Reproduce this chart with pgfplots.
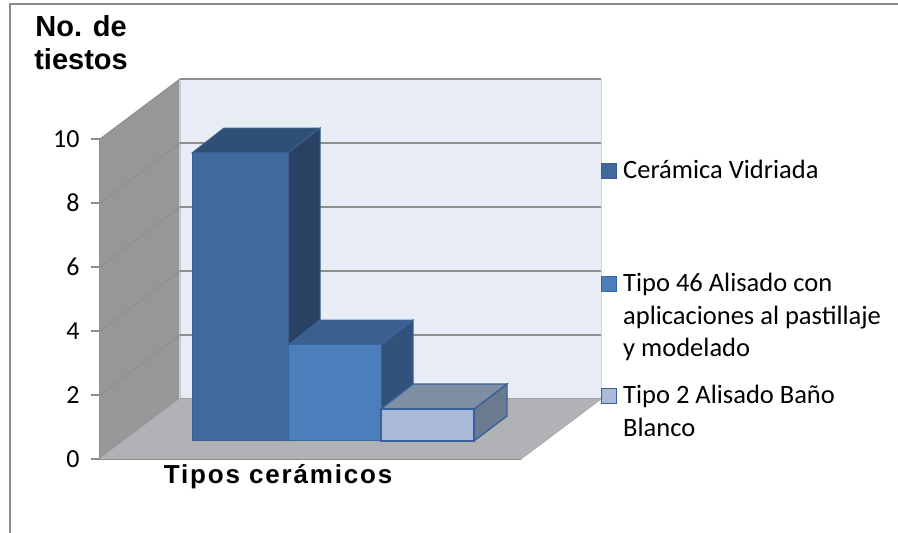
\documentclass[border=0pt]{standalone}
\usepackage{fontspec}
\usepackage{pgfplots}
\pgfplotsset{compat=1.18}
\setmainfont{Carlito}
\newfontfamily\arialb{Liberation Sans}
\newfontfamily\arialw[LetterSpace=7]{Liberation Sans}
\definecolor{frameg}{HTML}{8C8C8C}
\definecolor{wallc}{HTML}{969799}
\definecolor{floorc}{HTML}{B0B2B5}
\definecolor{backc}{HTML}{E8ECF5}
\definecolor{gridc}{HTML}{8E8E8E}
\definecolor{aF}{HTML}{40699C}
\definecolor{aT}{HTML}{2F4F75}
\definecolor{aS}{HTML}{294263}
\definecolor{aE}{HTML}{3A5F8E}
\definecolor{bF}{HTML}{4B7EBB}
\definecolor{bT}{HTML}{3A608F}
\definecolor{bS}{HTML}{31527B}
\definecolor{bE}{HTML}{3A659B}
\definecolor{cF}{HTML}{AAB9D7}
\definecolor{cT}{HTML}{808EA4}
\definecolor{cS}{HTML}{6C7A8F}
\definecolor{cE}{HTML}{38609A}
\newcommand{\lfont}{\fontsize{26.5}{32.5}\selectfont}
\begin{document}
\begin{tikzpicture}[x=1pt,y=1pt]
\path[use as bounding box] (0,0) rectangle (898,533);
\draw[frameg,line width=1.5pt] (898,529) -- (10,529) -- (10,0);
\begin{axis}[
  at={(100pt,74pt)}, anchor=origin,
  scale only axis, width=421pt, height=320pt,
  xmin=100, xmax=521, ymin=0, ymax=10,
  clip=false, axis on top=false,
  axis x line*=bottom, axis y line*=left,
  axis line style={frameg,line width=2pt,-},
  xtick=\empty, ytick={0,2,4,6,8,10},
  tick align=outside, major tick length=9pt,
  tick style={frameg,line width=1.5pt},
  /pgf/number format/assume math mode=true,
  yticklabel style={font=\fontsize{26}{30}\selectfont,xshift=-8pt,text=black},
  xlabel={Tipos cerámicos},
  x label style={font=\fontsize{26}{28}\selectfont\arialw\bfseries,at={(axis description cs:0.423,-0.055)},anchor=center},
  ylabel={No. de\\tiestos},
  y label style={font=\fontsize{29}{33}\selectfont\arialb\bfseries,rotate=-90,align=center,at={(axis description cs:-0.045,1.30)},anchor=center},
  legend style={at={(axis cs:601,9.34)},anchor=north west,draw=none,fill=none,inner sep=0pt,outer sep=0pt,
    column sep=6pt,row sep=0pt,nodes={inner sep=0pt,outer sep=0pt,text depth=,text height=,anchor=base west}},
  legend cell align=left,
]
% walls and floor
\addplot[fill=backc,draw=none,forget plot] coordinates {(180,1.875)(601,1.875)(601,11.875)(180,11.875)} -- cycle;
\addplot[fill=wallc,draw=none,forget plot] coordinates {(100,0)(180,1.875)(180,11.875)(100,10)} -- cycle;
\addplot[fill=floorc,draw=none,forget plot] coordinates {(100,0)(521,0)(601,1.875)(180,1.875)} -- cycle;
\addplot[draw=gridc!70,line width=1pt,forget plot] coordinates {(100,0)(180,1.875)};
\addplot[draw=gridc!70,line width=1pt,forget plot] coordinates {(521,0)(601,1.875)};
\addplot[draw=backc!80!gray,line width=1pt,forget plot] coordinates {(601,1.875)(601,11.875)};
\addplot[draw=backc!70!gray,line width=1.2pt,forget plot] coordinates {(180,1.875)(180,11.875)};
\addplot[draw=gridc!85,line width=1pt,forget plot] coordinates {(180,1.875)(601,1.875)};
% grid on wall
\addplot[draw=gridc,line width=1pt,forget plot] coordinates {(100,2)(180,3.875)};
\addplot[draw=gridc,line width=1pt,forget plot] coordinates {(100,4)(180,5.875)};
\addplot[draw=gridc,line width=1pt,forget plot] coordinates {(100,6)(180,7.875)};
\addplot[draw=gridc,line width=1pt,forget plot] coordinates {(100,8)(180,9.875)};
\addplot[draw=gridc,line width=1pt,forget plot] coordinates {(100,10)(180,11.875)};
% grid on back wall
\addplot[draw=gridc,line width=1.8pt,forget plot] coordinates {(180,3.875)(601,3.875)};
\addplot[draw=gridc,line width=1.8pt,forget plot] coordinates {(180,5.875)(601,5.875)};
\addplot[draw=gridc,line width=1.8pt,forget plot] coordinates {(180,7.875)(601,7.875)};
\addplot[draw=gridc,line width=1.8pt,forget plot] coordinates {(180,9.875)(601,9.875)};
\addplot[draw=gridc,line width=1.8pt,forget plot] coordinates {(180,11.875)(601,11.875)};
% bar 1, value 9
\addplot[fill=aS,draw=aE,line width=1pt,yshift=18pt,forget plot] coordinates {(288,0)(320,0.78)(320,9.78)(288,9)} -- cycle;
\addplot[fill=aT,draw=aE,line width=1pt,yshift=18pt,forget plot] coordinates {(192,9)(288,9)(320,9.78)(224,9.78)} -- cycle;
\addplot[fill=aF,draw=aE,line width=1pt,yshift=18pt,
  legend image code/.code={\draw[fill=aF,draw=aE,line width=1pt] (0,-18pt) rectangle (15pt,-3pt);}]
  coordinates {(192,0)(288,0)(288,9)(192,9)} -- cycle;
\addlegendentry{\parbox[t]{270pt}{\lfont Cerámica Vidriada\par\vspace{0pt}\rule{0pt}{93.5pt}}}
% bar 2, value 3
\addplot[fill=bS,draw=bE,line width=1pt,yshift=18pt,forget plot] coordinates {(381,0)(413,0.78)(413,3.78)(381,3)} -- cycle;
\addplot[fill=bT,draw=bE,line width=1pt,yshift=18pt,forget plot] coordinates {(288,3)(381,3)(413,3.78)(320,3.78)} -- cycle;
\addplot[fill=bF,draw=bE,line width=1pt,yshift=18pt,
  legend image code/.code={\draw[fill=bF,draw=bE,line width=1.2pt] (0,-18pt) rectangle (15pt,-3pt);}]
  coordinates {(288,0)(381,0)(381,3)(288,3)} -- cycle;
\addlegendentry{\parbox[t]{270pt}{\lfont Tipo 46 Alisado con\\aplicaciones al pastillaje\\y modelado\par\vspace{-4pt}\rule{0pt}{0pt}}}
% bar 3, value 1
\addplot[fill=cS,draw=cE,line width=1.3pt,yshift=18pt,forget plot] coordinates {(474,0)(507,0.78)(507,1.78)(474,1)} -- cycle;
\addplot[fill=cT,draw=cE,line width=1.3pt,yshift=18pt,forget plot] coordinates {(381,1)(474,1)(507,1.78)(413,1.78)} -- cycle;
\addplot[fill=cF,draw=cE,line width=1.3pt,yshift=18pt,
  legend image code/.code={\draw[fill=cF,draw=cE,line width=1.2pt] (0,-18pt) rectangle (15pt,-3pt);}]
  coordinates {(381,0)(474,0)(474,1)(381,1)} -- cycle;
\addlegendentry{\parbox[t]{270pt}{\lfont Tipo 2 Alisado Baño\\Blanco}}
\end{axis}
\end{tikzpicture}
\end{document}
